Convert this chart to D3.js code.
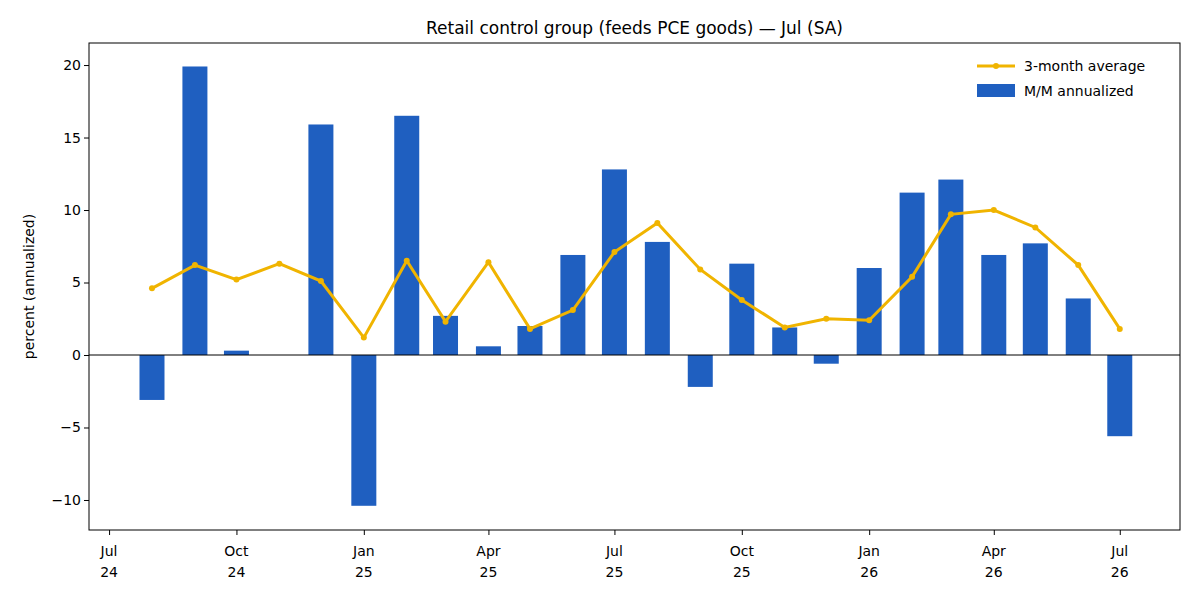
<!DOCTYPE html>
<html><head><meta charset="utf-8">
<script src="https://cdn.jsdelivr.net/npm/d3@7"></script>
<style>body{margin:0;background:#fff}text{font-family:"DejaVu Sans",sans-serif}</style>
</head><body><svg id="c" width="1200" height="600"></svg>
<script>
const months = ["2024-08","2024-09","2024-10","2024-11","2024-12","2025-01","2025-02","2025-03","2025-04","2025-05","2025-06","2025-07","2025-08","2025-09","2025-10","2025-11","2025-12","2026-01","2026-02","2026-03","2026-04","2026-05","2026-06","2026-07"];
const mom = [-3.1,19.9,0.3,0,15.9,-10.4,16.5,2.7,0.6,2.0,6.9,12.8,7.8,-2.2,6.3,1.9,-0.6,6.0,11.2,12.1,6.9,7.7,3.9,-5.6];
const avg3 = [4.6,6.2,5.2,6.3,5.1,1.2,6.5,2.3,6.4,1.8,3.1,7.1,9.1,5.9,3.8,1.9,2.5,2.4,5.4,9.7,10.0,8.8,6.2,1.8];
const tickDates = ["2024-07","2024-10","2025-01","2025-04","2025-07","2025-10","2026-01","2026-04","2026-07"];
const tickLabels = [["Jul","24"],["Oct","24"],["Jan","25"],["Apr","25"],["Jul","25"],["Oct","25"],["Jan","26"],["Apr","26"],["Jul","26"]];
const yTicks = [-10,-5,0,5,10,15,20];

const svg = d3.select("#c");
const L=89,R=1180,T=43,B=530;
const pd = s => new Date(s+"-01T00:00:00");
const x = d3.scaleTime().domain([new Date("2024-06-16T12:00:00"), new Date("2026-08-13T12:00:00")]).range([L,R]);
const y = d3.scaleLinear().domain([-12.07,21.52]).range([B,T]);
const dates = months.map(pd);
const bw = 25;
svg.append("g").selectAll("rect").data(mom).join("rect")
  .attr("x",(d,i)=>x(dates[i])-bw/2).attr("width",bw)
  .attr("y",d=>y(Math.max(0,d))).attr("height",d=>Math.abs(y(d)-y(0)))
  .attr("fill","#1f5fc0");
svg.append("line").attr("x1",L).attr("x2",R).attr("y1",y(0)).attr("y2",y(0)).attr("stroke","#000").attr("stroke-width",1);
const line = d3.line().x((d,i)=>x(dates[i])).y(d=>y(d));
svg.append("path").datum(avg3).attr("d",line).attr("fill","none").attr("stroke","#f0b400").attr("stroke-width",3);
svg.append("g").selectAll("circle").data(avg3).join("circle").attr("cx",(d,i)=>x(dates[i])).attr("cy",d=>y(d)).attr("r",3).attr("fill","#f0b400");
svg.append("rect").attr("x",L).attr("y",T).attr("width",R-L).attr("height",B-T).attr("fill","none").attr("stroke","#000");
const yg = svg.append("g").attr("transform",`translate(${L},0)`).call(d3.axisLeft(y).tickValues(yTicks).tickSize(5).tickFormat(d=>d<0?"−"+(-d):d));
yg.select(".domain").remove();
yg.selectAll("text").attr("font-size",14).attr("fill","#000");
const xg = svg.append("g").attr("transform",`translate(0,${B})`).call(d3.axisBottom(x).tickValues(tickDates.map(pd)).tickSize(5).tickFormat(""));
xg.select(".domain").remove();
tickDates.forEach((t,i)=>{
  const tx=svg.append("text").attr("x",x(pd(t))).attr("text-anchor","middle").attr("font-size",14);
  tx.append("tspan").attr("x",x(pd(t))).attr("y",556).text(tickLabels[i][0]);
  tx.append("tspan").attr("x",x(pd(t))).attr("y",577).text(tickLabels[i][1]);
});
svg.append("text").attr("x",(L+R)/2).attr("y",34).attr("text-anchor","middle").attr("font-size",17).text("Retail control group (feeds PCE goods) — Jul (SA)");
svg.append("text").attr("transform",`translate(34,${(T+B)/2}) rotate(-90)`).attr("text-anchor","middle").attr("font-size",14).text("percent (annualized)");
const lg=svg.append("g");
lg.append("line").attr("x1",977).attr("x2",1015).attr("y1",66).attr("y2",66).attr("stroke","#f0b400").attr("stroke-width",3);
lg.append("circle").attr("cx",996).attr("cy",66).attr("r",3).attr("fill","#f0b400");
lg.append("text").attr("x",1024).attr("y",71).attr("font-size",14).text("3-month average");
lg.append("rect").attr("x",977).attr("y",84).attr("width",38).attr("height",13).attr("fill","#1f5fc0");
lg.append("text").attr("x",1024).attr("y",96).attr("font-size",14).text("M/M annualized");
</script></body></html>
